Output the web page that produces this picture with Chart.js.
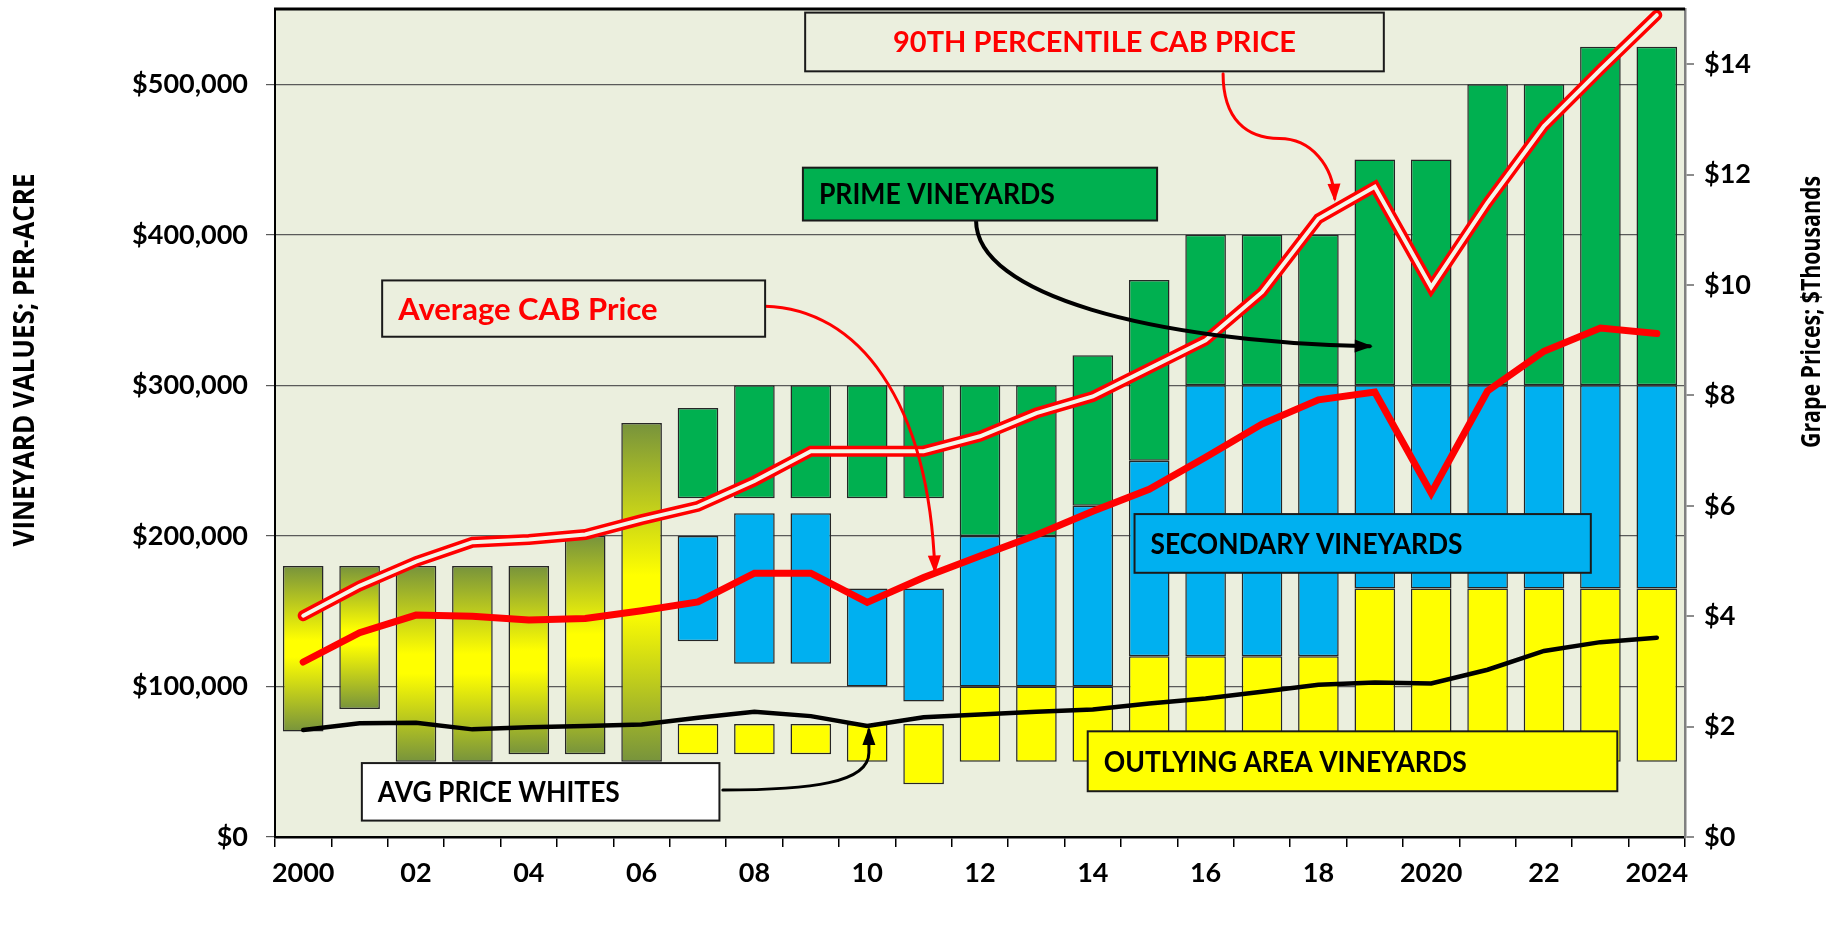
<!DOCTYPE html>
<html lang="en">
<head>
<meta charset="UTF-8">
<title>Vineyard Values and Grape Prices</title>
<script src="https://cdn.jsdelivr.net/npm/chart.js"></script>
<style>
  html, body { margin: 0; padding: 0; background: #ffffff; }
  #wrap { width: 1844px; height: 938px; }
</style>
</head>
<body>
<div id="wrap"><canvas id="chart" width="1844" height="938"></canvas></div>
<script>
// categories
const years = [2000, 2001, 2002, 2003, 2004, 2005, 2006, 2007, 2008, 2009, 2010, 2011, 2012,
               2013, 2014, 2015, 2016, 2017, 2018, 2019, 2020, 2021, 2022, 2023, 2024];
const xTickLabels = ['2000', '', '02', '', '04', '', '06', '', '08', '', '10', '', '12', '',
                     '14', '', '16', '', '18', '', '2020', '', '22', '', '2024'];

// vineyard values per acre, $ thousands, [low, high]
const earlyRange = [[70, 180], [85, 180], [50, 180], [50, 180], [55, 180], [55, 200], [50, 275],
  null, null, null, null, null, null, null, null, null, null, null, null, null, null, null, null, null, null];
const outlyingRange = [null, null, null, null, null, null, null,
  [55, 75], [55, 75], [55, 75], [50, 75], [35, 75], [50, 100], [50, 100], [50, 100],
  [50, 120], [50, 120], [50, 120], [50, 120], [50, 165], [50, 165], [50, 165], [50, 165],
  [50, 165], [50, 165]];
const secondaryRange = [null, null, null, null, null, null, null,
  [130, 200], [115, 215], [115, 215], [100, 165], [90, 165], [100, 200], [100, 200], [100, 220],
  [120, 250], [120, 300], [120, 300], [120, 300], [165, 300], [165, 300], [165, 300], [165, 300],
  [165, 300], [165, 300]];
const primeRange = [null, null, null, null, null, null, null,
  [225, 285], [225, 300], [225, 300], [225, 300], [225, 300], [200, 300], [200, 300], [220, 320],
  [250, 370], [300, 400], [300, 400], [300, 400], [300, 450], [300, 450], [300, 500], [300, 500],
  [300, 525], [300, 525]];

// grape prices, $ thousands
const avgCab = [3.17, 3.70, 4.02, 4.00, 3.93, 3.96, 4.10, 4.26, 4.78, 4.78, 4.25, 4.70, 5.09,
                5.47, 5.90, 6.30, 6.88, 7.48, 7.92, 8.06, 6.23, 8.08, 8.80, 9.22, 9.12];
const pct90Cab = [4.01, 4.55, 4.99, 5.34, 5.39, 5.48, 5.75, 5.99, 6.45, 6.99, 6.99, 6.99, 7.26,
                  7.68, 7.98, 8.49, 9.00, 9.87, 11.20, 11.78, 9.96, 11.49, 12.88, 13.90, 14.89];
const avgWhites = [1.94, 2.06, 2.07, 1.95, 1.99, 2.01, 2.04, 2.16, 2.27, 2.19, 2.01, 2.17, 2.22,
                   2.27, 2.31, 2.42, 2.51, 2.63, 2.76, 2.80, 2.78, 3.03, 3.37, 3.53, 3.61];

const PLOT_BG = '#EBEFDE';

// callout boxes: x in category index, v in $ thousands (left axis)
const notes = [
  { text: '90TH PERCENTILE CAB PRICE', x0: 8.90, x1: 19.16, v0: 508.6, v1: 547.6, fill: PLOT_BG, color: '#FF0000', center: true, size: 29, maxW: 412 },
  { text: 'PRIME VINEYARDS', x0: 8.86, x1: 15.14, v0: 409.5, v1: 444.6, fill: '#00B050', color: '#000000', size: 29, maxW: 236 },
  { text: 'Average CAB Price', x0: 1.40, x1: 8.19, v0: 332.3, v1: 369.7, fill: PLOT_BG, color: '#FF0000', size: 31, maxW: 268 },
  { text: 'SECONDARY VINEYARDS', x0: 14.74, x1: 22.83, v0: 175.5, v1: 214.5, fill: '#00B0F0', color: '#000000', size: 29, maxW: 312 },
  { text: 'OUTLYING AREA VINEYARDS', x0: 13.91, x1: 23.30, v0: 30.4, v1: 70.2, fill: '#FFFF00', color: '#000000', size: 29, maxW: 363 },
  { text: 'AVG PRICE WHITES', x0: 1.04, x1: 7.38, v0: 10.9, v1: 49.1, fill: '#FFFFFF', color: '#000000', size: 29, maxW: 242 }
];

// arrows: start point then cubic segments [c1, c2, end]
const arrows = [
  { color: '#FF0000', width: 3, start: [16.31, 507], segs: [[[16.31, 477], [16.72, 464], [17.31, 464]], [[17.87, 464], [18.26, 446], [18.29, 424]]] },
  { color: '#000000', width: 4, start: [11.93, 409.5], segs: [[[11.93, 360], [15.05, 329], [18.91, 326]]] },
  { color: '#FF0000', width: 3, start: [8.19, 352.6], segs: [[[9.84, 351], [11.09, 290], [11.20, 177]]] },
  { color: '#000000', width: 3, start: [7.44, 31.2], segs: [[[9.01, 31.2], [10.03, 36], [10.03, 56]], [[10.03, 62], [10.03, 66], [10.03, 71]]] }
];

function oliveGradient(ctx) {
  const chart = ctx.chart;
  const raw = ctx.raw;
  if (!chart.chartArea || !Array.isArray(raw)) return '#9AAA3C';
  const y = chart.scales.y;
  const top = y.getPixelForValue(raw[1]);
  const bot = y.getPixelForValue(raw[0]);
  const g = chart.ctx.createLinearGradient(0, top, 0, bot);
  g.addColorStop(0, '#77933C');
  g.addColorStop(0.45, '#FFFF00');
  g.addColorStop(0.55, '#FFFF00');
  g.addColorStop(1, '#77933C');
  return g;
}

const plotDecor = {
  id: 'plotDecor',
  beforeDraw(chart) {
    const a = chart.chartArea;
    const c = chart.ctx;
    c.save();
    c.fillStyle = PLOT_BG;
    c.fillRect(a.left, a.top, a.right - a.left, a.bottom - a.top);
    c.restore();
  },
  afterDatasetsDraw(chart) {
    const c = chart.ctx;
    const xs = chart.scales.x, ys = chart.scales.y;
    const P = (p) => [xs.getPixelForValue(p[0]), ys.getPixelForValue(p[1])];
    c.save();
    // arrows
    arrows.forEach(ar => {
      c.strokeStyle = ar.color;
      c.fillStyle = ar.color;
      c.lineWidth = ar.width;
      c.lineCap = 'round';
      c.beginPath();
      const s = P(ar.start);
      c.moveTo(s[0], s[1]);
      let last = null, prev = null;
      ar.segs.forEach(sg => {
        const c1 = P(sg[0]), c2 = P(sg[1]), e = P(sg[2]);
        c.bezierCurveTo(c1[0], c1[1], c2[0], c2[1], e[0], e[1]);
        prev = c2; last = e;
      });
      c.stroke();
      const ang = Math.atan2(last[1] - prev[1], last[0] - prev[0]);
      const len = 15, half = 6.5;
      c.beginPath();
      c.moveTo(last[0] + Math.cos(ang) * 3, last[1] + Math.sin(ang) * 3);
      c.lineTo(last[0] - Math.cos(ang) * len + Math.sin(ang) * half, last[1] - Math.sin(ang) * len - Math.cos(ang) * half);
      c.lineTo(last[0] - Math.cos(ang) * len - Math.sin(ang) * half, last[1] - Math.sin(ang) * len + Math.cos(ang) * half);
      c.closePath();
      c.fill();
    });
    // boxes
    notes.forEach(n => {
      const p0 = P([n.x0, n.v1]), p1 = P([n.x1, n.v0]);
      const w = p1[0] - p0[0], h = p1[1] - p0[1];
      c.fillStyle = n.fill;
      c.fillRect(p0[0], p0[1], w, h);
      c.strokeStyle = '#1a1a1a';
      c.lineWidth = 2;
      c.strokeRect(p0[0], p0[1], w, h);
      c.fillStyle = n.color;
      c.font = '700 ' + n.size + 'px Lato';
      c.textBaseline = 'middle';
      const cy = p0[1] + h / 2 + 1;
      if (n.center) {
        c.textAlign = 'center';
        c.fillText(n.text, p0[0] + w / 2, cy, n.maxW);
      } else {
        c.textAlign = 'left';
        c.fillText(n.text, p0[0] + 16, cy, n.maxW);
      }
    });
    c.restore();
  },
  afterDraw(chart) {
    const a = chart.chartArea;
    const c = chart.ctx;
    c.save();
    c.strokeStyle = '#000000';
    c.lineWidth = 3;
    c.beginPath();
    c.moveTo(a.left - 1, a.top);
    c.lineTo(a.right, a.top);
    c.stroke();
    // axis titles
    c.fillStyle = '#000000';
    c.textAlign = 'center';
    c.textBaseline = 'middle';
    c.font = '700 29px "Open Sans"';
    c.translate(26, 360);
    c.rotate(-Math.PI / 2);
    c.fillText('VINEYARD VALUES; PER-ACRE', 0, 0, 373);
    c.restore();
    c.save();
    c.fillStyle = '#000000';
    c.textAlign = 'center';
    c.textBaseline = 'middle';
    c.font = '700 27px "Open Sans"';
    c.translate(1812, 312);
    c.rotate(-Math.PI / 2);
    c.fillText('Grape Prices; $Thousands', 0, 0, 272);
    c.restore();
  }
};

Chart.defaults.font.family = 'Lato';
Chart.defaults.color = '#000000';

const barBase = {
  grouped: false,
  barPercentage: 0.72,
  categoryPercentage: 1,
  borderColor: '#262626',
  borderWidth: 1.5,
  borderSkipped: false,
  order: 10
};
const lineBase = {
  type: 'line',
  yAxisID: 'y1',
  pointRadius: 0,
  tension: 0,
  fill: false
};

new Chart(document.getElementById('chart'), {
  type: 'bar',
  data: {
    labels: years,
    datasets: [
      Object.assign({ label: 'Vineyards 2000-06', data: earlyRange, backgroundColor: oliveGradient }, barBase),
      Object.assign({ label: 'Outlying area vineyards', data: outlyingRange, backgroundColor: '#FFFF00' }, barBase),
      Object.assign({ label: 'Secondary vineyards', data: secondaryRange, backgroundColor: '#00B0F0' }, barBase),
      Object.assign({ label: 'Prime vineyards', data: primeRange, backgroundColor: '#00B050' }, barBase),
      Object.assign({ label: '90th percentile CAB price (inner)', data: pct90Cab, borderColor: '#F3F5E8', borderWidth: 4, borderCapStyle: 'round', order: 0 }, lineBase),
      Object.assign({ label: '90th percentile CAB price', data: pct90Cab, borderColor: '#FF0000', borderWidth: 11, borderCapStyle: 'round', order: 1 }, lineBase),
      Object.assign({ label: 'Average CAB price', data: avgCab, borderColor: '#FF0000', borderWidth: 7, borderCapStyle: 'round', order: 2 }, lineBase),
      Object.assign({ label: 'Avg price whites', data: avgWhites, borderColor: '#000000', borderWidth: 4.5, borderCapStyle: 'round', order: 3 }, lineBase)
    ]
  },
  options: {
    responsive: false,
    animation: false,
    layout: { padding: { top: 9, left: 0, right: 0, bottom: 0 } },
    plugins: { legend: { display: false }, tooltip: { enabled: false } },
    scales: {
      x: {
        grid: { offset: true, drawOnChartArea: false, color: '#000000', tickLength: 10, lineWidth: 1.5 },
        border: { color: '#000000', width: 2.5 },
        ticks: {
          autoSkip: false, maxRotation: 0, padding: 10,
          font: { size: 27, weight: 'bold' },
          callback: (v, i) => xTickLabels[i]
        },
        afterFit: s => { s.height = 101; }
      },
      y: {
        min: 0, max: 550,
        grid: { color: '#5a5a5a', lineWidth: 1.2, tickLength: 9 },
        border: { color: '#000000', width: 2 },
        ticks: {
          stepSize: 100, includeBounds: false, padding: 18,
          font: { size: 27, weight: 'bold' },
          callback: v => (v === 0 ? '$0' : '$' + v + ',000')
        },
        afterFit: s => { s.width = 275; s.paddingTop = 0; s.paddingBottom = 0; }
      },
      y1: {
        position: 'right',
        min: 0, max: 15,
        grid: { drawOnChartArea: false, color: '#8c8c8c', tickLength: 9, lineWidth: 2 },
        border: { color: '#808080', width: 2.5 },
        ticks: {
          stepSize: 2, includeBounds: false, padding: 10,
          font: { size: 27, weight: 'bold' },
          callback: v => '$' + v
        },
        afterFit: s => { s.width = 159; s.paddingTop = 0; s.paddingBottom = 0; }
      }
    }
  },
  plugins: [plotDecor]
});
</script>
</body>
</html>
